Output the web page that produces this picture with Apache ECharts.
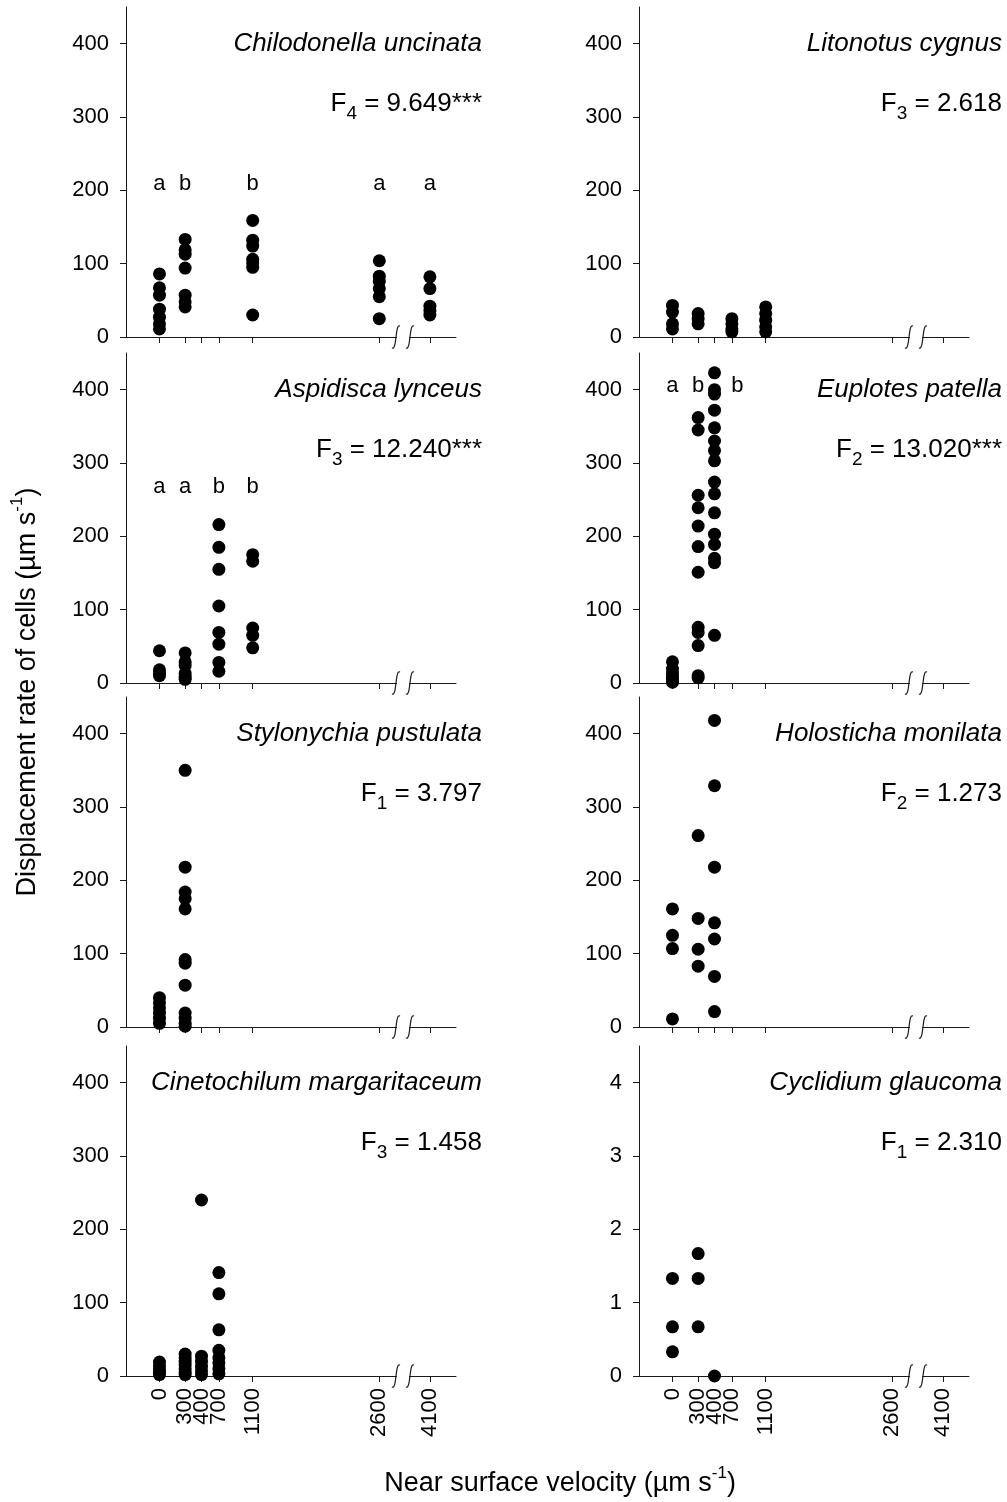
<!DOCTYPE html>
<html>
<head>
<meta charset="utf-8">
<script src="https://cdn.jsdelivr.net/npm/echarts@6/dist/echarts.min.js"></script>
<style>
html, body { margin: 0; padding: 0; background: #fff; }
#main { width: 1007px; height: 1502px; }
</style>
</head>
<body>
<div id="main"></div>
<script>
//-----------------------------------------------------------------------------/
// data
//-----------------------------------------------------------------------------/
// velocity groups and where they sit on the (broken) x axis
var velocityTicks = [0, 300, 400, 700, 1100, 2600, 4100];
var tickPos = [0, 303, 496, 701, 1100, 2594, 3191];
var breakPos = [2791, 2956];
var yTicks = [0, 100, 200, 300, 400];
var yTicksSmall = [0, 1, 2, 3, 4];

// one list of values per velocity group
var chilodonella = [[86, 67, 57, 38, 27, 18, 11], [133, 119, 113, 94, 57, 48, 41], [], [],
	[159, 132, 124, 106, 101, 95, 30], [104, 83, 76, 66, 55, 25], [82, 66, 42, 36, 30]];
var litonotus = [[43, 34, 18, 11], [32, 25, 18], [], [25, 18, 11, 7], [41, 32, 23, 14, 7], [], []];
var aspidisca = [[44, 18, 13, 10], [41, 29, 24, 13, 8, 5], [], [216, 185, 155, 105, 69, 53, 28, 16],
	[175, 166, 75, 65, 48], [], []];
var euplotes = [[29, 19, 13, 8, 4, 1], [362, 345, 256, 239, 214, 186, 151, 76, 69, 51, 10, 7],
	[423, 400, 394, 372, 348, 330, 317, 303, 274, 258, 232, 203, 189, 170, 164, 65], [], [], [], []];
var stylonychia = [[40, 33, 26, 19, 12, 5], [350, 218, 184, 175, 161, 92, 87, 57, 19, 12, 5, 1],
	[], [], [], [], []];
var holosticha = [[161, 125, 107, 11], [261, 148, 106, 83], [418, 329, 218, 142, 120, 69, 21], [], [], [], []];
var cinetochilum = [[19, 14, 9, 5, 2], [30, 25, 20, 15, 10, 5, 2], [240, 27, 20, 13, 7, 2],
	[141, 112, 63, 35, 25, 18, 10, 3], [], [], []];
var cyclidium = [[1.33, 0.67, 0.33], [1.67, 1.33, 0.67], [0], [], [], [], []];

// significance letters: [letter, x position on axis]
var chiloLetters = [['a', 0], ['b', 303], ['b', 1100], ['a', 2594], ['a', 3191]];
var aspidiscaLetters = [['a', 0], ['a', 303], ['b', 701], ['b', 1100]];
var euplotesLetters = [['a', 0], ['b', 303], ['b', 767]];

var panels = [
	{ name: 'Chilodonella uncinata', fSub: '4', fVal: ' = 9.649***', data: chilodonella, letters: chiloLetters, letterY: 209 },
	{ name: 'Litonotus cygnus', fSub: '3', fVal: ' = 2.618', data: litonotus },
	{ name: 'Aspidisca lynceus', fSub: '3', fVal: ' = 12.240***', data: aspidisca, letters: aspidiscaLetters, letterY: 267 },
	{ name: 'Euplotes patella', fSub: '2', fVal: ' = 13.020***', data: euplotes, letters: euplotesLetters, letterY: 405 },
	{ name: 'Stylonychia pustulata', fSub: '1', fVal: ' = 3.797', data: stylonychia },
	{ name: 'Holosticha monilata', fSub: '2', fVal: ' = 1.273', data: holosticha },
	{ name: 'Cinetochilum margaritaceum', fSub: '3', fVal: ' = 1.458', data: cinetochilum },
	{ name: 'Cyclidium glaucoma', fSub: '1', fVal: ' = 2.310', data: cyclidium, small: true }
];

//-----------------------------------------------------------------------------/
// layout
//-----------------------------------------------------------------------------/
var FONT = '"Liberation Sans", Arial, Helvetica, sans-serif';
var colLeft = [126, 639];
var colRight = [482, 1002];
var rowTop = [7, 353, 697, 1046];
var SIZE = 330;
var AXIS_COLOR = '#1a1a1a';
var TICK_FONT = 22;

function labelFor(pos) {
	var k = tickPos.indexOf(pos);
	return k < 0 ? '' : String(velocityTicks[k]);
}

var chart = echarts.init(document.getElementById('main'));

function buildOption() {
	var grids = [], xAxes = [], yAxes = [], series = [], graphics = [];

	panels.forEach(function(p, i) {
		var col = i % 2, row = Math.floor(i / 2);
		var top = rowTop[row];
		grids.push({ left: colLeft[col], top: top, width: SIZE, height: SIZE });

		xAxes.push({
			type: 'value', gridIndex: i, min: -395, max: 3499,
			axisLine: { onZero: false, lineStyle: { color: AXIS_COLOR, width: 1 } },
			axisTick: { customValues: tickPos, length: 6, lineStyle: { color: AXIS_COLOR, width: 1 } },
			axisLabel: {
				show: row === 3, customValues: tickPos, rotate: 90, margin: 12,
				fontSize: TICK_FONT, color: '#000', fontFamily: FONT, formatter: labelFor
			},
			splitLine: { show: false }
		});

		var ticks = p.small ? yTicksSmall : yTicks;
		yAxes.push({
			type: 'value', gridIndex: i, min: 0, max: p.small ? 4.5 : 450,
			axisLine: { show: true, onZero: false, lineStyle: { color: AXIS_COLOR, width: 1 } },
			axisTick: { show: true, customValues: ticks, length: 6, lineStyle: { color: AXIS_COLOR, width: 1 } },
			axisLabel: { customValues: ticks, margin: 17, fontSize: TICK_FONT, color: '#000', fontFamily: FONT },
			splitLine: { show: false }
		});

		// points
		var pts = [];
		p.data.forEach(function(vals, k) {
			vals.forEach(function(v) { pts.push([tickPos[k], v]); });
		});
		series.push({
			type: 'scatter', xAxisIndex: i, yAxisIndex: i, data: pts,
			symbol: 'circle', symbolSize: 13, itemStyle: { color: '#000', opacity: 1 }, silent: true
		});

		// letters a / b
		if (p.letters) {
			series.push({
				type: 'scatter', xAxisIndex: i, yAxisIndex: i, silent: true,
				symbolSize: 2, itemStyle: { color: 'rgba(0,0,0,0)', opacity: 1 },
				data: p.letters.map(function(l) { return { name: l[0], value: [l[1], p.letterY] }; }),
				label: { show: true, position: 'inside', formatter: '{b}', fontSize: 22,
					color: '#000', opacity: 1, fontFamily: FONT }
			});
		}

		// species name and F value
		graphics.push({
			type: 'text', x: colRight[col], y: top + 37, z: 10,
			style: { text: p.name, align: 'right', verticalAlign: 'middle',
				font: 'italic 26px ' + FONT, fill: '#000' }
		});
		graphics.push({
			type: 'text', x: colRight[col], y: top + 97, z: 10,
			style: {
				text: '{n|F}{s|' + p.fSub + '}{n|' + p.fVal + '}',
				align: 'right', verticalAlign: 'middle',
				rich: {
					n: { fontSize: 26, fontFamily: FONT, fill: '#000', lineHeight: 38 },
					s: { fontSize: 19, fontFamily: FONT, fill: '#000', lineHeight: 19, verticalAlign: 'bottom' }
				}
			}
		});
	});

	// axis titles
	var titleRich = {
		n: { fontSize: 27, fontFamily: FONT, fill: '#000', lineHeight: 38 },
		p: { fontSize: 17, fontFamily: FONT, fill: '#000', lineHeight: 17, verticalAlign: 'top' }
	};
	graphics.push({
		type: 'text', x: 28, y: 692, rotation: Math.PI / 2,
		style: { text: '{n|Displacement rate of cells (µm s}{p|-1}{n|)}',
			align: 'center', verticalAlign: 'middle', rich: titleRich }
	});
	graphics.push({
		type: 'text', x: 560, y: 1484,
		style: { text: '{n|Near surface velocity (µm s}{p|-1}{n|)}',
			align: 'center', verticalAlign: 'middle', rich: titleRich }
	});

	return {
		backgroundColor: '#fff',
		animation: false,
		textStyle: { fontFamily: FONT },
		grid: grids, xAxis: xAxes, yAxis: yAxes, series: series, graphic: graphics
	};
}

var option = buildOption();
chart.setOption(option);

// axis break marks, placed through the axes
function drawBreaks() {
	var extra = [];
	panels.forEach(function(p, i) {
		var z = chart.convertToPixel({ yAxisIndex: i }, 0);
		var xa = chart.convertToPixel({ xAxisIndex: i }, breakPos[0]);
		var xb = chart.convertToPixel({ xAxisIndex: i }, breakPos[1]);
		extra.push({ type: 'rect', z: 20, shape: { x: xa + 1, y: z - 2, width: xb - xa - 2, height: 4 },
			style: { fill: '#fff' } });
		[xa, xb].forEach(function(x) {
			extra.push({
				type: 'bezierCurve', z: 21,
				shape: { x1: x + 4, y1: z - 11, cpx1: x - 1, cpy1: z - 14, cpx2: x + 1, cpy2: z + 14, x2: x - 4, y2: z + 11 },
				style: { stroke: AXIS_COLOR, lineWidth: 1.2, fill: null }
			});
		});
	});
	chart.setOption({ graphic: option.graphic.concat(extra) });
}
drawBreaks();
</script>
</body>
</html>
